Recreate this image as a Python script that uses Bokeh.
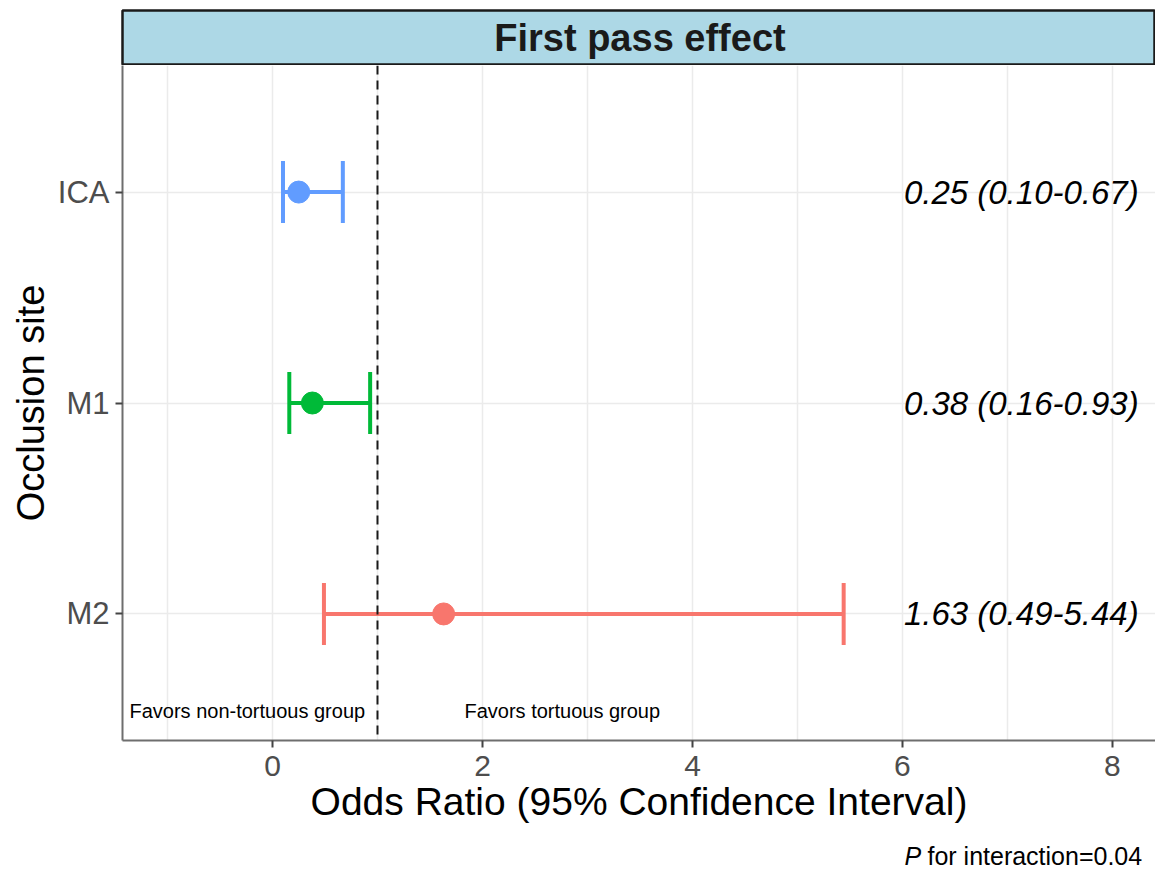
from bokeh.plotting import figure
from bokeh.models import ColumnDataSource, Range1d, FixedTicker, Span, Whisker, TeeHead
from bokeh.layouts import column
from bokeh.core.properties import value
from bokeh.embed import file_html
from bokeh.resources import INLINE

# ---- data ----
sites = ["ICA", "M1", "M2"]
odds_ratio = [0.25, 0.38, 1.63]
ci_lower = [0.10, 0.16, 0.49]
ci_upper = [0.67, 0.93, 5.44]
colors = ["#619CFF", "#00BA38", "#F8766D"]
x_ticks = [0, 2, 4, 6, 8]
x_minor_ticks = [-1, 1, 3, 5, 7]
null_value = 1
strip_title = "First pass effect"
x_title = "Odds Ratio (95% Confidence Interval)"
y_title = "Occlusion site"
left_note = "Favors non-tortuous group"
right_note = "Favors tortuous group"
p_label = "P"
p_rest = "for interaction=0.04"

FONT = "Liberation Sans"
ypos = [len(sites) - i for i in range(len(sites))]
ci_text = [f"{o:.2f} ({l:.2f}-{u:.2f})" for o, l, u in zip(odds_ratio, ci_lower, ci_upper)]

src = ColumnDataSource(dict(y=ypos, site=sites, orr=odds_ratio, lo=ci_lower, hi=ci_upper,
                            color=colors, lab=ci_text))

W = 1155
LEFT = 122
xr = Range1d(-1.4286, 8.41)

# ---- main panel ----
p = figure(width=W, height=766, x_range=xr, y_range=Range1d(0.4, 3.6),
           output_backend="svg", toolbar_location=None,
           min_border_left=LEFT, min_border_right=0, min_border_top=0, min_border_bottom=91)
p.outline_line_color = None
p.background_fill_color = "white"

p.xaxis.ticker = FixedTicker(ticks=x_ticks, minor_ticks=x_minor_ticks)
p.yaxis.ticker = FixedTicker(ticks=ypos)
p.yaxis.major_label_overrides = {y: s for y, s in zip(ypos, sites)}

for ax in (p.xaxis, p.yaxis):
    ax.axis_line_color = "#6E6E6E"
    ax.axis_line_width = 2
    ax.major_tick_line_color = "#444444"
    ax.major_tick_line_width = 2
    ax.major_tick_out = 7
    ax.major_tick_in = 0
    ax.minor_tick_line_color = None
    ax.major_label_text_color = "#4D4D4D"
    ax.major_label_text_font = FONT
    ax.axis_label_text_font = FONT
    ax.axis_label_text_font_style = "normal"
    ax.axis_label_text_color = "black"

p.xaxis.axis_label_text_font_size = "39px"
p.yaxis.axis_label_text_font_size = "38px"
p.xaxis.major_label_text_font_size = "30px"
p.yaxis.major_label_text_font_size = "31px"
p.xaxis.major_label_standoff = 8
p.yaxis.major_label_standoff = 6
p.xaxis.axis_label_standoff = 1
p.yaxis.axis_label_standoff = 3
p.xaxis.axis_label = x_title
p.yaxis.axis_label = y_title

p.xgrid.grid_line_color = "#EBEBEB"
p.xgrid.grid_line_width = 1.5
p.xgrid.minor_grid_line_color = "#EBEBEB"
p.xgrid.minor_grid_line_width = 1.5
p.ygrid.grid_line_color = "#EBEBEB"
p.ygrid.grid_line_width = 1.5

p.add_layout(Span(location=null_value, dimension="height", line_color="#1A1A1A",
                  line_width=2, line_dash="9 6"))

for i in range(len(sites)):
    one = ColumnDataSource(dict(y=[ypos[i]], lo=[ci_lower[i]], hi=[ci_upper[i]]))
    w = Whisker(source=one, base="y", lower="lo", upper="hi", dimension="width",
                line_color=colors[i], line_width=4,
                lower_head=TeeHead(size=62, line_color=colors[i], line_width=4),
                upper_head=TeeHead(size=62, line_color=colors[i], line_width=4))
    p.add_layout(w)

p.scatter(x="orr", y="y", source=src, size=22, color="color", line_color="color")

p.text(x=8.25, y="y", text="lab", source=src, text_align="right", text_baseline="middle",
       text_font=value(FONT), text_font_style="italic", text_font_size="33px", text_color="black")

p.text(x=[-0.24, 2.76], y=[0.5375, 0.5375], text=[left_note, right_note], text_align="center",
       text_baseline="middle", text_font=value(FONT), text_font_size="20px", text_color="black")

# ---- facet strip ----
s = figure(width=W, height=65, x_range=xr, y_range=Range1d(0, 1),
           output_backend="svg", toolbar_location=None,
           min_border_left=LEFT, min_border_right=0, min_border_top=10, min_border_bottom=1,
           x_axis_location=None, y_axis_location=None)
s.grid.visible = False
s.background_fill_color = "#ADD8E6"
s.outline_line_color = "#1A1A1A"
s.outline_line_width = 2.5
s.text(x=[3.5], y=[0.5], text=[strip_title], text_align="center", text_baseline="middle",
       text_font=value(FONT), text_font_style="bold", text_font_size="38px", text_color="#1A1A1A")

# ---- caption below ----
n = figure(width=W, height=37, x_range=xr, y_range=Range1d(0, 37),
           output_backend="svg", toolbar_location=None,
           min_border_left=LEFT, min_border_right=0, min_border_top=0, min_border_bottom=0,
           x_axis_location=None, y_axis_location=None)
n.grid.visible = False
n.outline_line_color = None
n.text(x=[6.02], y=[13], text=[p_label], text_align="left", text_baseline="middle",
       text_font=value(FONT), text_font_style="italic", text_font_size="25px", text_color="black")
n.text(x=[6.238], y=[13], text=[p_rest], text_align="left", text_baseline="middle",
       text_font=value(FONT), text_font_size="25px", text_color="black")

layout = column(s, p, n, spacing=0)
open("out.html", "w").write(file_html(layout, INLINE))
